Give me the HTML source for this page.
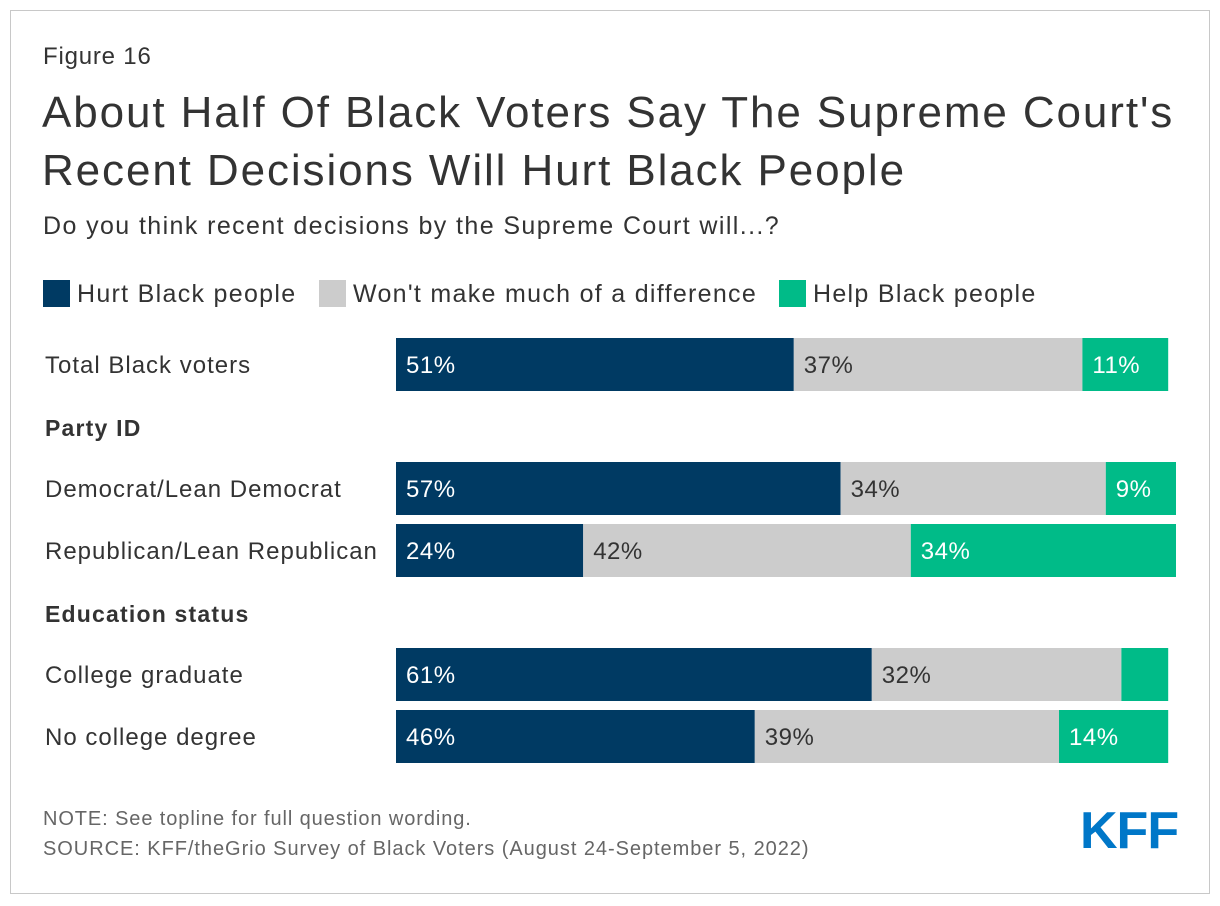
<!DOCTYPE html>
<html><head><meta charset="utf-8"><style>
body{margin:0;background:#fff;font-family:"Liberation Sans",Arial,sans-serif;}
#frame{position:absolute;left:10px;top:10px;width:1198px;height:882px;border:1px solid #c8c8c8;}
.t{position:absolute;color:#333;white-space:nowrap;}
</style></head><body>
<div id="frame"></div>
<div class="t" style="left:43px;top:43px;font-size:24px;letter-spacing:0.8px;">Figure 16</div>
<div class="t" style="left:42px;top:84px;font-size:44px;line-height:58px;letter-spacing:1.9px;color:#333;">About Half Of Black Voters Say The Supreme Court's<br>Recent Decisions Will Hurt Black People</div>
<div class="t" style="left:43px;top:212px;font-size:25px;letter-spacing:1.4px;">Do you think recent decisions by the Supreme Court will...?</div>
<svg id="chart" width="1220" height="906" style="position:absolute;left:0;top:0"></svg>
<div class="t" style="left:43px;top:808px;font-size:20px;letter-spacing:0.9px;color:#666;">NOTE: See topline for full question wording.</div>
<div class="t" style="left:43px;top:838px;font-size:20px;letter-spacing:0.95px;color:#666;">SOURCE: KFF/theGrio Survey of Black Voters (August 24-September 5, 2022)</div>
<div class="t" style="left:1080px;top:801px;font-size:52px;font-weight:bold;color:#0077c8;letter-spacing:-1px;">KFF</div>
<script>
const categories=["Total Black voters","Democrat/Lean Democrat","Republican/Lean Republican","College graduate","No college degree"];
const hurt=[51,57,24,61,46];
const noDiff=[37,34,42,32,39];
const help=[11,9,34,6,14];
const helpLabels=["11%","9%","34%","","14%"];
const rowTops=[338,462,524,648,710];
const headers=[["Party ID",427],["Education status",613]];
const svg=document.getElementById('chart');
const NS='http://www.w3.org/2000/svg';
const x0=396,scale=7.8,bh=53;
const xs=v=>v*scale;
function mk(tag,attrs){const e=document.createElementNS(NS,tag);for(const k in attrs)e.setAttribute(k,attrs[k]);svg.appendChild(e);return e;}
const leg=[["Hurt Black people","#003a63",43],["Won't make much of a difference","#cccccc",319],["Help Black people","#00bb88",779]];
leg.forEach(l=>{
 const r=mk('rect',{x:l[2],y:280,width:27,height:27,fill:l[1]});
 
 
 const t=mk('text',{x:l[2]+34,y:302,'font-size':25,fill:'#333','letter-spacing':1.3});t.textContent=l[0];
 
 
});
headers.forEach(h=>{
 const t=mk('text',{x:45,y:h[1]+9,'font-size':23,'font-weight':'bold',fill:'#333','letter-spacing':1.2});t.textContent=h[0];
 
 
});
categories.forEach((c,i)=>{
 const y=rowTops[i];
 const t=mk('text',{x:45,y:y+35,'font-size':24,fill:'#333','letter-spacing':1});t.textContent=c;
 
 
 const segs=[[hurt[i],'#003a63','#fff',hurt[i]+'%','bar-hurt'],[noDiff[i],'#cccccc','#333',noDiff[i]+'%','bar-no-difference'],[help[i],'#00bb88','#fff',helpLabels[i],'bar-help']];
 let x=x0;
 segs.forEach(s=>{
  const r=mk('rect',{x:x,y:y,width:xs(s[0]),height:bh,fill:s[1]});
  
  
  if(s[3]){const l=mk('text',{x:x+10,y:y+35,'font-size':24,fill:s[2],'letter-spacing':0.5});l.textContent=s[3];
   
   }
  x+=xs(s[0]);
 });
});
</script>
</body></html>
